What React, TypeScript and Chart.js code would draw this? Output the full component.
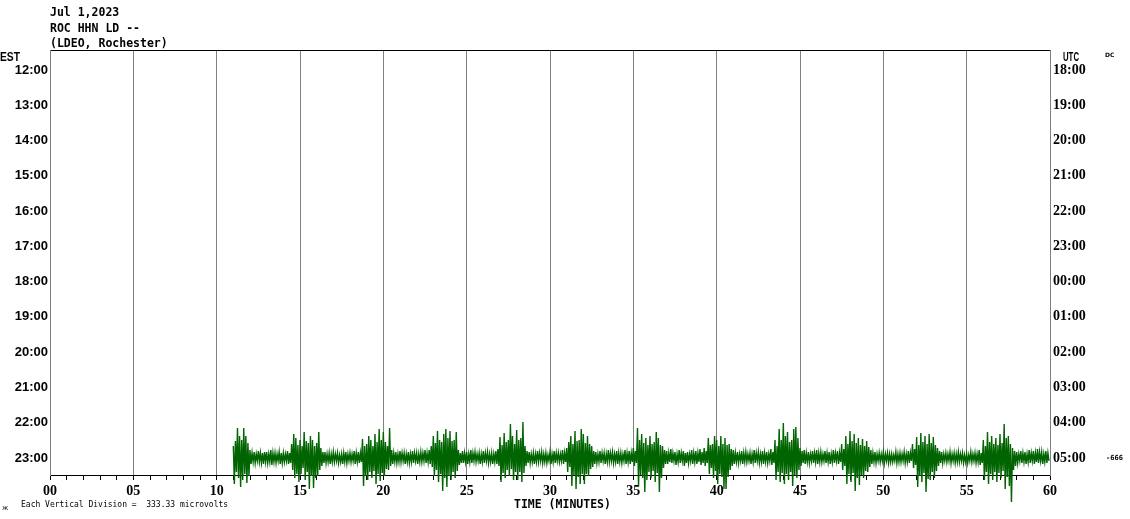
import React, { useEffect, useRef } from "react";
import { Chart, registerables } from "chart.js";

Chart.register(...registerables);

// ---- Text / labels ----
const titleLines = ["Jul 1,2023", "ROC HHN LD --", "(LDEO, Rochester)"];
const estLabels = ["12:00", "13:00", "14:00", "15:00", "16:00", "17:00", "18:00", "19:00", "20:00", "21:00", "22:00", "23:00"];
const utcLabels = ["18:00", "19:00", "20:00", "21:00", "22:00", "23:00", "00:00", "01:00", "02:00", "03:00", "04:00", "05:00"];
const minuteLabels = ["00", "05", "10", "15", "20", "25", "30", "35", "40", "45", "50", "55", "60"];
const xTitle = "TIME (MINUTES)";
const scaleNote = "Each Vertical Division =  333.33 microvolts";
const clipLevel = "-666";

// ---- Trace data (23:00 row) ----
const TRACE_ROW = 11; // index of the 23:00 row
const TRACE_START_MIN = 11;
const BIN_MIN = 0.125;
const COUNTS_PER_DIVISION = 35.3;

// per 0.125-minute bin: max (upward) excursion in counts; one line = one minute
const traceHigh = [
  12, 17, 30, 22, 18, 30, 22, 15, // 11
  8, 5, 6, 4, 7, 5, 5, 6, // 12
  6, 4, 8, 5, 5, 4, 6, 5, // 13
  5, 4, 7, 5, 14, 24, 20, 13, // 14
  18, 12, 26, 17, 15, 22, 18, 12, // 15
  15, 26, 10, 6, 6, 4, 5, 4, // 16
  6, 4, 5, 3, 4, 5, 6, 4, // 17
  5, 4, 7, 5, 6, 5, 19, 12, // 18
  14, 22, 18, 12, 24, 16, 29, 18, // 19
  26, 16, 12, 30, 8, 5, 6, 4, // 20
  7, 5, 5, 4, 6, 4, 7, 5, // 21
  5, 4, 6, 5, 8, 5, 8, 12, // 22
  22, 15, 27, 18, 16, 24, 29, 20, // 23
  27, 17, 18, 26, 8, 5, 7, 5, // 24
  6, 4, 8, 5, 6, 4, 5, 4, // 25
  7, 5, 6, 4, 5, 4, 7, 9, // 26
  21, 13, 25, 16, 18, 34, 22, 14, // 27
  28, 18, 20, 36, 12, 7, 6, 4, // 28
  5, 4, 7, 5, 6, 4, 5, 3, // 29
  6, 4, 7, 5, 5, 4, 8, 5, // 30
  10, 16, 22, 14, 27, 17, 18, 29, // 31
  24, 15, 22, 14, 12, 7, 6, 4, // 32
  7, 5, 5, 4, 8, 5, 6, 4, // 33
  7, 5, 5, 4, 8, 5, 7, 5, // 34
  10, 7, 30, 18, 24, 15, 20, 13, // 35
  22, 14, 16, 26, 20, 13, 12, 8, // 36
  7, 5, 9, 5, 6, 4, 8, 5, // 37
  7, 5, 6, 4, 8, 5, 7, 5, // 38
  9, 6, 10, 7, 20, 13, 14, 22, // 39
  18, 12, 22, 14, 20, 13, 14, 9, // 40
  8, 5, 6, 4, 7, 5, 6, 4, // 41
  5, 4, 8, 5, 6, 4, 7, 5, // 42
  6, 4, 9, 6, 18, 12, 29, 18, // 43
  35, 22, 26, 16, 18, 29, 31, 20, // 44
  10, 7, 8, 5, 6, 4, 7, 5, // 45
  8, 5, 6, 4, 7, 5, 6, 4, // 46
  8, 5, 7, 5, 14, 9, 22, 14, // 47
  27, 17, 24, 15, 20, 13, 19, 12, // 48
  17, 11, 8, 5, 6, 4, 5, 4, // 49
  6, 4, 5, 4, 4, 3, 6, 4, // 50
  5, 4, 6, 4, 7, 5, 14, 9, // 51
  21, 13, 25, 16, 22, 14, 24, 15, // 52
  21, 13, 10, 7, 6, 4, 5, 4, // 53
  6, 4, 5, 4, 6, 4, 5, 3, // 54
  4, 3, 6, 4, 5, 4, 8, 5, // 55
  18, 12, 26, 16, 22, 14, 20, 13, // 56
  24, 15, 34, 20, 22, 14, 10, 7, // 57
  6, 4, 7, 5, 6, 4, 8, 5, // 58
  7, 5, 9, 6, 6, 4, 7, 5, // 59
];
// per 0.125-minute bin: min (downward) excursion in counts
const traceLow = [
  -26, -14, -20, -29, -22, -16, -25, -18, // 11
  -6, -4, -5, -3, -4, -5, -6, -4, // 12
  -5, -4, -7, -4, -5, -3, -6, -5, // 13
  -4, -3, -6, -5, -12, -20, -16, -24, // 14
  -16, -10, -22, -14, -31, -18, -30, -20, // 15
  -18, -12, -8, -5, -5, -4, -6, -4, // 16
  -4, -3, -5, -4, -6, -4, -5, -3, // 17
  -4, -3, -6, -4, -5, -4, -28, -18, // 18
  -22, -14, -20, -13, -26, -16, -23, -15, // 19
  -18, -11, -12, -8, -6, -4, -5, -4, // 20
  -4, -3, -6, -4, -5, -4, -5, -3, // 21
  -6, -4, -4, -3, -5, -4, -6, -9, // 22
  -18, -12, -24, -16, -33, -20, -29, -18, // 23
  -22, -14, -20, -13, -7, -5, -5, -4, // 24
  -6, -4, -5, -3, -4, -3, -6, -4, // 25
  -5, -3, -5, -4, -6, -4, -6, -8, // 26
  -24, -15, -20, -12, -18, -11, -22, -14, // 27
  -22, -14, -24, -15, -8, -5, -5, -4, // 28
  -6, -4, -4, -3, -5, -4, -5, -3, // 29
  -6, -4, -5, -3, -4, -3, -6, -4, // 30
  -14, -9, -28, -17, -31, -19, -26, -16, // 31
  -26, -16, -18, -11, -9, -6, -5, -4, // 32
  -5, -3, -6, -4, -4, -3, -5, -4, // 33
  -6, -4, -5, -3, -6, -4, -6, -4, // 34
  -8, -5, -28, -17, -20, -34, -22, -14, // 35
  -20, -13, -24, -15, -34, -20, -10, -6, // 36
  -6, -4, -5, -3, -7, -4, -5, -3, // 37
  -8, -5, -5, -3, -6, -4, -6, -4, // 38
  -7, -5, -8, -5, -16, -10, -20, -13, // 39
  -26, -16, -19, -31, -31, -19, -12, -8, // 40
  -6, -4, -5, -3, -6, -4, -4, -3, // 41
  -6, -4, -5, -3, -5, -4, -6, -4, // 42
  -5, -3, -7, -5, -22, -14, -24, -15, // 43
  -26, -16, -22, -14, -28, -17, -20, -12, // 44
  -8, -5, -6, -4, -5, -3, -5, -4, // 45
  -6, -4, -4, -3, -5, -4, -6, -4, // 46
  -5, -3, -6, -4, -12, -8, -26, -16, // 47
  -24, -15, -33, -20, -27, -17, -20, -13, // 48
  -14, -9, -6, -4, -5, -3, -4, -3, // 49
  -5, -3, -5, -4, -4, -3, -5, -4, // 50
  -4, -3, -5, -4, -5, -3, -10, -7, // 51
  -29, -18, -24, -15, -34, -21, -22, -14, // 52
  -20, -13, -8, -5, -5, -3, -4, -3, // 53
  -5, -3, -5, -4, -4, -3, -5, -4, // 54
  -5, -3, -4, -3, -5, -4, -7, -5, // 55
  -22, -14, -26, -16, -22, -14, -24, -15, // 56
  -20, -13, -31, -19, -28, -44, -12, -8, // 57
  -5, -3, -5, -4, -6, -4, -5, -3, // 58
  -6, -4, -5, -3, -6, -4, -5, -3, // 59
];

const GRID_GRAY = "#808080";
const TRACE_GREEN = "#006400";

function buildTrace() {
  const pts: { x: number; y: number }[] = [];
  traceHigh.forEach((h, i) => {
    const t = TRACE_START_MIN + i * BIN_MIN;
    pts.push({ x: t, y: TRACE_ROW - h / COUNTS_PER_DIVISION });
    pts.push({ x: t + BIN_MIN / 2, y: TRACE_ROW - traceLow[i] / COUNTS_PER_DIVISION });
  });
  return pts;
}

const textPlugin = {
  id: "helicorderText",
  afterDraw(chart: any) {
    const { ctx, chartArea } = chart;
    const L = chartArea.left;
    const R = chartArea.right;
    const T = chartArea.top;
    const B = chartArea.bottom;
    ctx.save();
    ctx.fillStyle = "#000";
    ctx.textAlign = "left";
    ctx.textBaseline = "alphabetic";
    ctx.font = 'bold 11.5px "DejaVu Sans Mono"';
    titleLines.forEach((line, i) => ctx.fillText(line, L, 16 + i * 15.7));

    ctx.font = 'bold 12px "Liberation Sans"';
    ctx.fillText("EST", 0, T + 11, 20);
    ctx.fillText("UTC", R + 13, T + 11, 16);

    ctx.font = 'bold 6px "DejaVu Sans"';
    ctx.fillText("DC", R + 55, T + 7);

    // clip level label next to the trace row
    const yRow = chart.scales.y.getPixelForValue(TRACE_ROW);
    ctx.font = 'bold 7px "DejaVu Sans Mono"';
    ctx.textBaseline = "middle";
    ctx.fillText(clipLevel, R + 56, yRow, 19);

    ctx.textBaseline = "alphabetic";
    ctx.font = 'bold 11.5px "DejaVu Sans Mono"';
    ctx.fillText(xTitle, 514, B + 33);

    ctx.font = '8px "DejaVu Sans Mono"';
    ctx.fillText(scaleNote, 21, B + 32, 213);
    ctx.font = '7px "DejaVu Sans"';
    ctx.fillText("\u0436", 2, B + 35);
    ctx.restore();
  },
};

export default function App() {
  const canvasRef = useRef<HTMLCanvasElement | null>(null);

  useEffect(() => {
    const canvas = canvasRef.current;
    if (!canvas) return;
    const yMin = -0.567;
    const yMax = 11.483;
    const rowTicks = estLabels.map((_, i) => ({ value: i }));
    const minuteTicks: { value: number }[] = [];
    for (let m = 0; m <= 60; m++) minuteTicks.push({ value: m });

    const chart = new Chart(canvas, {
      type: "line",
      data: {
        datasets: [
          {
            data: buildTrace(),
            borderColor: TRACE_GREEN,
            borderWidth: 1.4,
            pointRadius: 0,
            tension: 0,
            fill: false,
            clip: false as any,
            xAxisID: "x",
            yAxisID: "y",
          },
        ],
      },
      options: {
        responsive: false,
        animation: false,
        events: [],
        layout: { padding: { top: 50, left: 0, right: 0, bottom: 0 } },
        plugins: {
          legend: { display: false },
          tooltip: { enabled: false },
          title: { display: false },
        },
        scales: {
          x: {
            type: "linear",
            position: "bottom",
            min: 0,
            max: 60,
            afterBuildTicks: (s: any) => {
              s.ticks = minuteTicks.map((t) => ({ ...t }));
            },
            afterFit: (s: any) => {
              s.height = 44;
            },
            ticks: {
              autoSkip: false,
              maxRotation: 0,
              padding: 3,
              color: "#000",
              font: { family: "Liberation Serif", size: 14, weight: "bold" },
              callback: (v: any) => (Number(v) % 5 === 0 ? minuteLabels[Number(v) / 5] : ""),
            },
            grid: {
              display: true,
              drawOnChartArea: true,
              drawTicks: true,
              tickLength: 5,
              tickColor: "#000",
              color: (ctx: any) =>
                ctx.tick && ctx.tick.value % 5 === 0 ? GRID_GRAY : "rgba(0,0,0,0)",
              lineWidth: 1,
            },
            border: { display: true, color: "#000", width: 1 },
          },
          xTop: {
            type: "linear",
            position: "top",
            min: 0,
            max: 60,
            afterFit: (s: any) => {
              s.height = 0;
            },
            ticks: { display: false },
            grid: { display: false, drawTicks: false },
            border: { display: true, color: "#000", width: 1 },
          },
          y: {
            type: "linear",
            position: "left",
            reverse: true,
            min: yMin,
            max: yMax,
            afterBuildTicks: (s: any) => {
              s.ticks = rowTicks.map((t) => ({ ...t }));
            },
            afterFit: (s: any) => {
              s.width = 50;
            },
            ticks: {
              autoSkip: false,
              padding: 2,
              color: "#000",
              font: { family: "Liberation Sans", size: 13, weight: "bold" },
              callback: (v: any) => estLabels[Number(v)] ?? "",
            },
            grid: { display: false, drawTicks: false },
            border: { display: true, color: GRID_GRAY, width: 1 },
          },
          y2: {
            type: "linear",
            position: "right",
            reverse: true,
            min: yMin,
            max: yMax,
            afterBuildTicks: (s: any) => {
              s.ticks = rowTicks.map((t) => ({ ...t }));
            },
            afterFit: (s: any) => {
              s.width = 80;
            },
            ticks: {
              autoSkip: false,
              padding: 3,
              color: "#000",
              font: { family: "Liberation Serif", size: 14, weight: "bold" },
              callback: (v: any) => utcLabels[Number(v)] ?? "",
            },
            grid: { display: false, drawTicks: false },
            border: { display: true, color: GRID_GRAY, width: 1 },
          },
        },
      } as any,
      plugins: [textPlugin],
    });
    return () => chart.destroy();
  }, []);

  return (
    <div style={{ position: "absolute", left: 0, top: 0, width: 1130, height: 519, background: "#fff" }}>
      <canvas ref={canvasRef} width={1130} height={519} style={{ display: "block" }} />
    </div>
  );
}
